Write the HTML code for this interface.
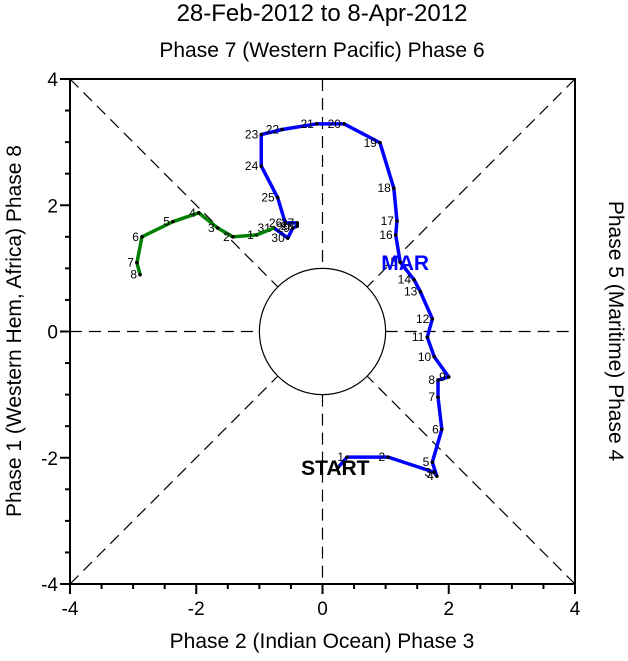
<!DOCTYPE html>
<html><head><meta charset="utf-8"><style>
body{margin:0;background:#fff}
svg text{font-family:"Liberation Sans",Helvetica,sans-serif}
</style></head><body>
<svg id="c" width="628" height="656" xmlns="http://www.w3.org/2000/svg">
<text x="322" y="21" font-size="24" text-anchor="middle">28-Feb-2012 to 8-Apr-2012</text>
<text x="322" y="57" font-size="21" text-anchor="middle">Phase 7 (Western Pacific) Phase 6</text>
<text x="322" y="648" font-size="21" text-anchor="middle">Phase 2 (Indian Ocean) Phase 3</text>
<text transform="translate(21,331) rotate(-90)" font-size="21" text-anchor="middle">Phase 1 (Western Hem, Africa) Phase 8</text>
<text transform="translate(609,331) rotate(90)" font-size="21" text-anchor="middle">Phase 5 (Maritime) Phase 4</text>
<g id="g"></g>
</svg>
<script>
const ticks=[-4,-2,0,2,4];
const blueLabels=["","1","2","3","4","5","6","7","8","9","10","11","12","13","14","15","16","17","18","19","20","21","22","23","24","25","26","27","28","29","30","31"];
const blueX=[0.25,0.39,1.04,1.77,1.81,1.74,1.89,1.83,1.83,2.00,1.77,1.66,1.74,1.55,1.45,1.23,1.16,1.18,1.13,0.91,0.34,-0.09,-0.64,-0.97,-0.97,-0.71,-0.59,-0.40,-0.40,-0.47,-0.55,-0.77];
const blueY=[-2.15,-1.99,-1.99,-2.23,-2.29,-2.07,-1.55,-1.04,-0.77,-0.72,-0.40,-0.09,0.20,0.63,0.82,1.10,1.53,1.75,2.27,2.99,3.29,3.29,3.20,3.12,2.62,2.12,1.72,1.72,1.67,1.64,1.48,1.64];
const greenLabels=["1","2","3","4","5","6","7","8"];
const greenX=[-1.04,-1.42,-1.66,-1.96,-2.37,-2.86,-2.94,-2.89];
const greenY=[1.53,1.50,1.64,1.88,1.74,1.50,1.09,0.90];
const X0=70,X1=575,Y0=584,Y1=79;
const sx=v=>X0+(v+4)/8*(X1-X0), sy=v=>Y0-(v+4)/8*(Y0-Y1);
const g=document.getElementById('g');const NS="http://www.w3.org/2000/svg";
function mk(t,a){const e=document.createElementNS(NS,t);for(const k in a)e.setAttribute(k,a[k]);g.appendChild(e);return e;}
const R=sx(1)-sx(0),cx=sx(0),cy=sy(0),d=R/Math.SQRT2;
let e;
[[sx(-4),cy,cx-R,cy],[cx+R,cy,sx(4),cy],[cx,sy(4),cx,cy-R],[cx,cy+R,cx,sy(-4)],
 [sx(-4),sy(4),cx-d,cy-d],[sx(4),sy(4),cx+d,cy-d],[sx(-4),sy(-4),cx-d,cy+d],[sx(4),sy(-4),cx+d,cy+d]].forEach(l=>{
 e=mk('line',{x1:l[0],y1:l[1],x2:l[2],y2:l[3],stroke:'#000','stroke-width':1.2,'stroke-dasharray':'12,7'});
 
 });
e=mk('circle',{cx:cx,cy:cy,r:R,fill:'#fff',stroke:'#000','stroke-width':1.2});


e=mk('rect',{x:X0,y:Y1,width:X1-X0,height:Y0-Y1,fill:'none',stroke:'#000','stroke-width':2});


for(let v=-4;v<=4.001;v+=0.5){const maj=Math.abs(v%2)<1e-6,L=maj?10:5;
 [[sx(v),Y0,sx(v),Y0+L],[X0,sy(v),X0-L,sy(v)]].forEach(l=>{e=mk('line',{x1:l[0],y1:l[1],x2:l[2],y2:l[3],stroke:'#000','stroke-width':2});
 
 });}
ticks.forEach(v=>{
 e=mk('text',{x:sx(v),y:Y0+31,'font-size':19,'text-anchor':'middle'});e.textContent=v;
 
 
 e=mk('text',{x:X0-12,y:sy(v)+7,'font-size':19,'text-anchor':'end'});e.textContent=v;
 
 });
function series(xs,ys,labs,col,name){
 let pts=xs.map((x,i)=>sx(x)+','+sy(ys[i])).join(' ');
 e=mk('polyline',{points:pts,fill:'none',stroke:col,'stroke-width':3.5,'stroke-linejoin':'round'});
 
 
 xs.forEach((x,i)=>{
  e=mk('circle',{cx:sx(x),cy:sy(ys[i]),r:1.8,fill:'#000'});
  
  
  if(labs[i]){e=mk('text',{x:sx(x)-3,y:sy(ys[i])+4,'font-size':12,'text-anchor':'end'});e.textContent=labs[i];
  
  }});}
series(greenX,greenY,greenLabels,'#008000','april-track');
series(blueX,blueY,blueLabels,'#0000ff','march-track');
e=mk('line',{x1:sx(blueX[blueX.length-1]),y1:sy(blueY[blueY.length-1]),x2:sx(greenX[0]),y2:sy(greenY[0]),stroke:'#008000','stroke-width':3.5});


e=mk('text',{x:sx(blueX[0])-3,y:sy(blueY[0])+8,'font-size':21,'font-weight':'bold','text-anchor':'middle'});e.textContent='START';


e=mk('text',{x:sx(blueX[15])+5,y:sy(blueY[15])+8,'font-size':21,'font-weight':'bold',fill:'#0000ff','text-anchor':'middle'});e.textContent='MAR';


</script>
</body></html>
